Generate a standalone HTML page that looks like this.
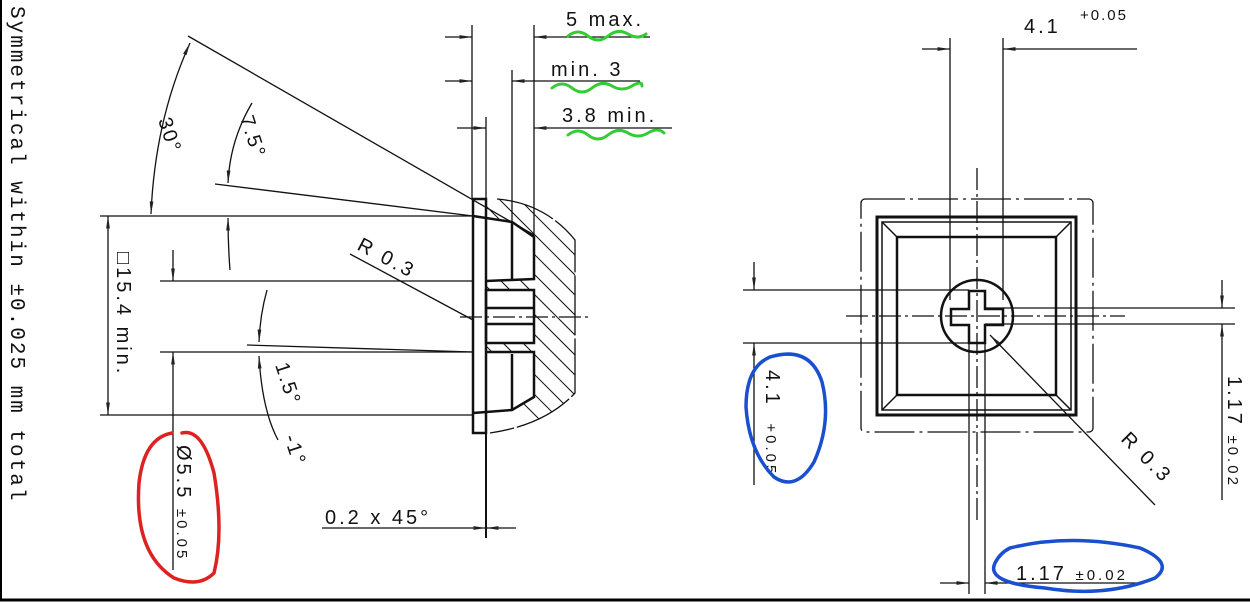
<!DOCTYPE html>
<html><head><meta charset="utf-8"><style>
html,body{margin:0;padding:0;background:#fff;}
svg{display:block;}
text{font-family:"Liberation Sans",sans-serif;fill:#111;}
</style></head><body>
<svg width="1250" height="602" viewBox="0 0 1250 602" xmlns="http://www.w3.org/2000/svg">
<defs>
<marker id="a" viewBox="0 0 10 4" refX="10" refY="2" markerWidth="14" markerHeight="5" orient="auto-start-reverse" markerUnits="userSpaceOnUse"><path d="M0,0.5 L10,2 L0,3.5 Z" fill="#222"/></marker>
<clipPath id="hc"><path d="M497,199 Q545,203 575,240 L575,393 Q545,425 490,433 L486,433 L486,413 L512,410 L534,397 L534,352 L486,352 L486,343 L534,343 L534,290 L486,290 L486,280 L512,280 L534,279 L534,237 L512,222 L486,216 L486,199 Z"/></clipPath>
</defs>
<rect width="1250" height="602" fill="#fff"/>
<line x1="0" y1="600" x2="1250" y2="600" stroke="#000" stroke-width="3"/>
<line x1="1" y1="0" x2="1" y2="600" stroke="#000" stroke-width="2"/>
<text transform="translate(11,6) rotate(90)" font-size="21" letter-spacing="2" style="font-family:'Liberation Mono',monospace">Symmetrical within ±0.025 mm total</text>

<g stroke="#111" stroke-width="1.3" fill="none">
<line x1="100" y1="216" x2="473" y2="216"/>
<line x1="100" y1="415" x2="473" y2="415"/>
<line x1="160" y1="281" x2="473" y2="281"/>
<line x1="160" y1="352" x2="473" y2="352"/>
<line x1="188" y1="36" x2="534" y2="235"/>
<line x1="215" y1="184" x2="473" y2="216"/>
<line x1="247" y1="345" x2="473" y2="352"/>
<line x1="350" y1="254" x2="473" y2="320"/>
<line x1="108" y1="216" x2="108" y2="415" marker-start="url(#a)" marker-end="url(#a)"/>
<line x1="173" y1="250" x2="173" y2="281" marker-end="url(#a)"/>
<line x1="173" y1="570" x2="173" y2="352" marker-end="url(#a)"/>
<path d="M190,43 Q155,120 151,214" marker-start="url(#a)" marker-end="url(#a)"/>
<path d="M252,103 Q230,140 228,183" marker-end="url(#a)"/>
<path d="M228,218 Q228,245 230,270" marker-start="url(#a)"/>
<path d="M267,290 Q260,315 259,342" marker-end="url(#a)"/>
<path d="M259,356 Q262,410 278,440" marker-start="url(#a)"/>
<line x1="472" y1="25" x2="472" y2="199"/>
<line x1="486" y1="117" x2="486" y2="199"/>
<line x1="512" y1="70" x2="512" y2="222"/>
<line x1="534" y1="25" x2="534" y2="237"/>
<line x1="445" y1="37" x2="472" y2="37" marker-end="url(#a)"/>
<line x1="650" y1="37" x2="534" y2="37" marker-end="url(#a)"/>
<line x1="445" y1="81" x2="472" y2="81" marker-end="url(#a)"/>
<line x1="640" y1="81" x2="512" y2="81" marker-end="url(#a)"/>
<line x1="457" y1="128" x2="486" y2="128" marker-end="url(#a)"/>
<line x1="672" y1="128" x2="534" y2="128" marker-end="url(#a)"/>
<line x1="486" y1="433" x2="486" y2="538" stroke-width="2"/>
<line x1="322" y1="528" x2="486" y2="528" marker-end="url(#a)"/>
<line x1="516" y1="528" x2="486" y2="528" marker-end="url(#a)"/>
<line x1="460" y1="317" x2="590" y2="317" stroke-dasharray="22,4,3,4"/>
<g clip-path="url(#hc)" stroke-width="1">
<path d="M420,160 l220,220 M420,180 l220,220 M420,200 l220,220 M420,220 l220,220 M420,240 l220,220 M420,260 l220,220 M420,280 l220,220 M420,300 l220,220 M420,140 l220,220 M420,120 l220,220 M420,100 l220,220 M420,80 l220,220 M420,60 l220,220 M420,40 l220,220 M420,20 l220,220 M420,0 l220,220"/>
</g>
<path d="M497,199 Q545,203 575,240 L575,393 Q545,425 490,433" stroke-dasharray="60,3"/>
<rect x="473" y="199" width="13" height="234" stroke-width="2.5"/>
<path d="M473,216 L512,222 L534,237 L534,279 L486,281" stroke-width="2.5"/>
<line x1="512" y1="222" x2="512" y2="280" stroke-width="2.5"/>
<rect x="486" y="290" width="48" height="53" stroke-width="2.5"/>
<line x1="486" y1="308" x2="534" y2="308" stroke-width="2.5"/>
<line x1="486" y1="324" x2="534" y2="324" stroke-width="2.5"/>
<path d="M486,352 L534,352 L534,397 L512,410 L473,413" stroke-width="2.5"/>
<line x1="512" y1="354" x2="512" y2="410" stroke-width="2.5"/>

<rect x="861" y="199" width="232" height="233" rx="4" stroke-dasharray="40,5,3,5"/>
<rect x="877" y="217" width="199" height="198" stroke-width="3"/>
<rect x="882" y="222" width="189" height="188" stroke-width="1.5"/>
<rect x="897" y="237" width="159" height="158" stroke-width="2.5"/>
<path d="M882,222 L897,237 M1071,222 L1056,237 M882,410 L897,395 M1071,410 L1056,395" stroke-width="1.5"/>
<circle cx="977" cy="316" r="36" stroke-width="2.5"/>
<path d="M969,291 h16 v18 h18 v16 h-18 v18 h-16 v-18 h-18 v-16 h18 z" stroke-width="2.5"/>
<line x1="950" y1="38" x2="950" y2="300"/>
<line x1="1003" y1="38" x2="1003" y2="300"/>
<line x1="977" y1="168" x2="977" y2="520" stroke-dasharray="22,4,3,4"/>
<line x1="846" y1="316" x2="1125" y2="316" stroke-dasharray="22,4,3,4"/>
<line x1="969" y1="343" x2="969" y2="594"/>
<line x1="985" y1="343" x2="985" y2="594"/>
<line x1="743" y1="290" x2="969" y2="290"/>
<line x1="743" y1="343" x2="969" y2="343"/>
<line x1="985" y1="308" x2="1235" y2="308"/>
<line x1="985" y1="324" x2="1235" y2="324"/>
<line x1="922" y1="49" x2="950" y2="49" marker-end="url(#a)"/>
<line x1="1137" y1="49" x2="1003" y2="49" marker-end="url(#a)"/>
<line x1="754" y1="262" x2="754" y2="290" marker-end="url(#a)"/>
<line x1="754" y1="485" x2="754" y2="343" marker-end="url(#a)"/>
<line x1="1222" y1="280" x2="1222" y2="308" marker-end="url(#a)"/>
<line x1="1222" y1="500" x2="1222" y2="324" marker-end="url(#a)"/>
<line x1="940" y1="583" x2="969" y2="583" marker-end="url(#a)"/>
<line x1="1142" y1="583" x2="985" y2="583" marker-end="url(#a)"/>
<line x1="1155" y1="505" x2="990" y2="335" marker-end="url(#a)"/>
</g>

<text x="566" y="26" font-size="20" letter-spacing="3">5 max.</text>
<text x="551" y="76" font-size="20" letter-spacing="3">min. 3</text>
<text x="562" y="122" font-size="20" letter-spacing="3">3.8 min.</text>
<text x="325" y="524" font-size="20" letter-spacing="3">0.2 x 45°</text>
<text transform="translate(158,120) rotate(72)" font-size="20" letter-spacing="2">30°</text>
<text transform="translate(240,118) rotate(72)" font-size="20" letter-spacing="2">7.5°</text>
<text transform="translate(356,249) rotate(28)" font-size="20" letter-spacing="3">R 0.3</text>
<text transform="translate(275,365) rotate(72)" font-size="20" letter-spacing="2">1.5°</text>
<text transform="translate(284,437) rotate(72)" font-size="20" letter-spacing="2">-1°</text>
<text transform="translate(117,252) rotate(90)" font-size="20" letter-spacing="3">□15.4 min.</text>
<text transform="translate(177,445) rotate(90)" font-size="20" letter-spacing="3">Ø5.5 <tspan font-size="15">±0.05</tspan></text>
<text x="1024" y="33" font-size="20" letter-spacing="3">4.1</text>
<text x="1080" y="20" font-size="15" letter-spacing="2">+0.05</text>
<text transform="translate(766,370) rotate(90)" font-size="20" letter-spacing="3">4.1 <tspan font-size="15" dx="8">+0.05</tspan></text>
<text transform="translate(1228,376) rotate(90)" font-size="20" letter-spacing="3">1.17 <tspan font-size="15">±0.02</tspan></text>
<text x="1016" y="580" font-size="20" letter-spacing="3">1.17 <tspan font-size="15">±0.02</tspan></text>
<text transform="translate(1120,440) rotate(45)" font-size="20" letter-spacing="3">R 0.3</text>

<g fill="none" stroke-linecap="round">
<path d="M568,36 q10,-8 20,0 t20,0 t20,-2 t18,0" stroke="#3c3" stroke-width="3"/>
<path d="M552,88 q10,-8 20,0 t20,0 t20,-2 t20,0 t10,0" stroke="#3c3" stroke-width="3"/>
<path d="M568,135 q10,-8 20,0 t20,0 t20,-2 t20,0 t16,0" stroke="#3c3" stroke-width="3"/>
<path d="M182,433 q20,-5 32,40 q10,60 0,100 q-15,15 -40,5 q-40,-25 -35,-95 q5,-45 33,-50" stroke="#d22" stroke-width="3.5"/>
<path d="M770,357 q40,-12 52,25 q10,40 -8,80 q-18,30 -40,15 q-25,-25 -28,-70 q0,-40 24,-50" stroke="#1a4fd0" stroke-width="3.5"/>
<path d="M1010,548 q60,-15 130,0 q35,15 15,30 q-50,20 -110,10 q-60,-5 -50,-25 q5,-10 15,-15" stroke="#1a4fd0" stroke-width="3.5"/>
</g>
</svg>
</body></html>
